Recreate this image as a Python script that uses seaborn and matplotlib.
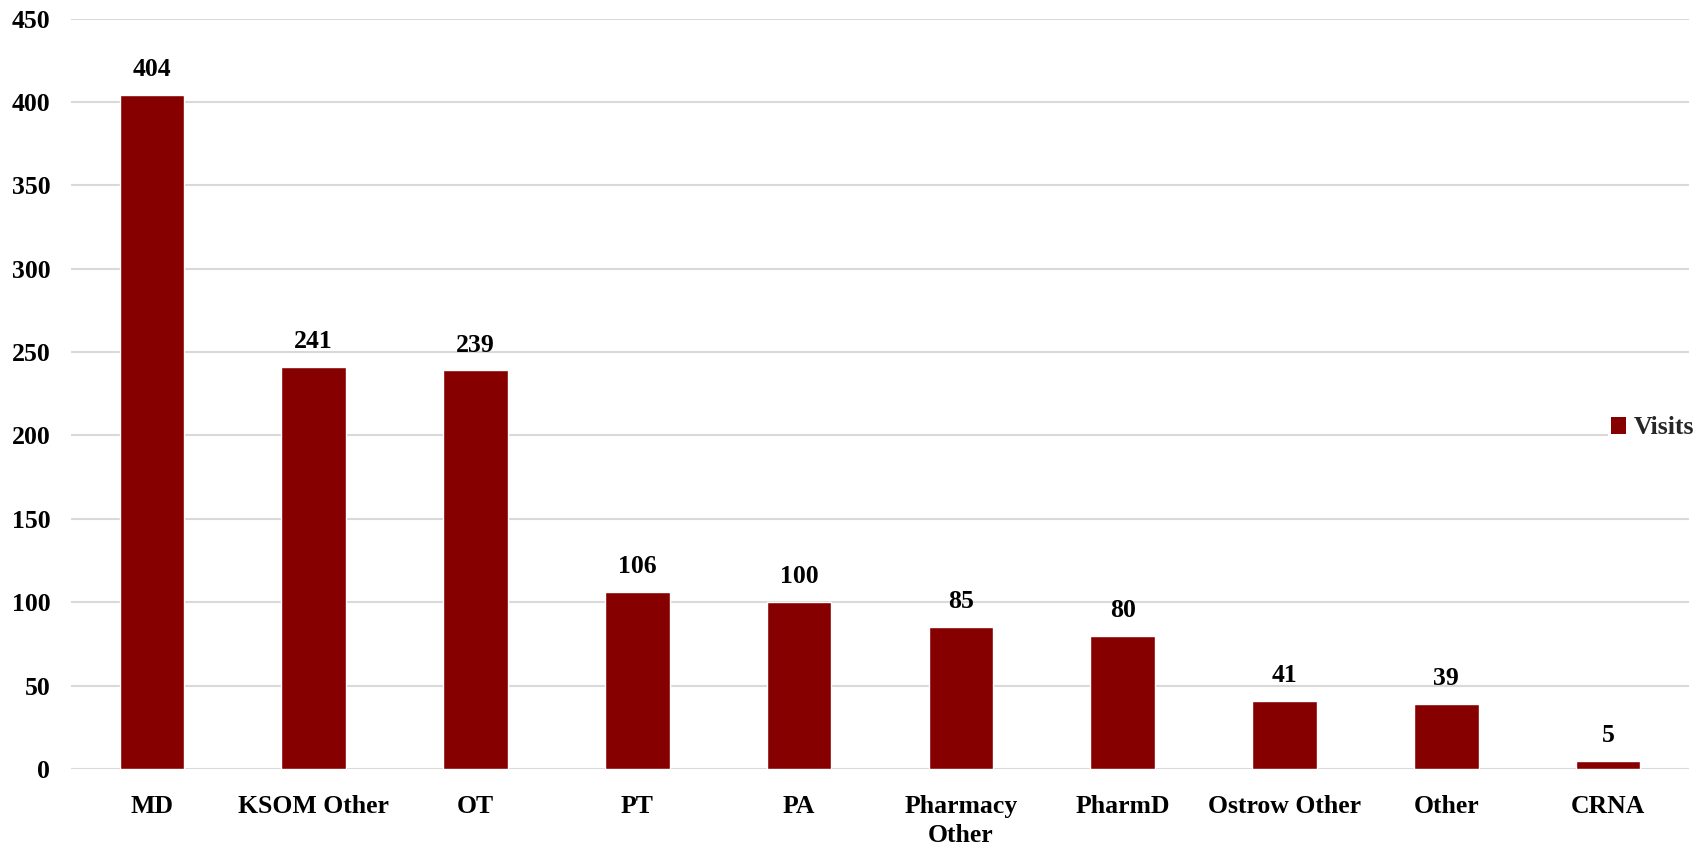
import matplotlib
matplotlib.use("Agg")
import matplotlib.pyplot as plt
import seaborn as sns
import pandas as pd
from matplotlib.patches import Patch

categories = ["MD", "KSOM Other", "OT", "PT", "PA", "Pharmacy\nOther",
              "PharmD", "Ostrow Other", "Other", "CRNA"]
visits = [404, 241, 239, 106, 100, 85, 80, 41, 39, 5]
y_ticks = [0, 50, 100, 150, 200, 250, 300, 350, 400, 450]

BAR_COLOR = "#870000"
GRID_COLOR = "#d9d9d9"
FONT_SIZE = 18.5

sns.set_theme(style="white")
plt.rcParams["font.family"] = ["Liberation Serif", "DejaVu Serif"]
plt.rcParams["font.weight"] = "bold"

df = pd.DataFrame({"Category": categories, "Visits": visits})

fig = plt.figure(figsize=(17.07, 8.49), dpi=100)
ax = fig.add_axes([71 / 1707, 1 - 769 / 849, (1689 - 71) / 1707, (769 - 18.5) / 849])

sns.barplot(data=df, x="Category", y="Visits", color=BAR_COLOR, width=0.4,
            saturation=1, ax=ax, zorder=3)

ax.set_ylim(0, 450)
ax.set_xlim(-0.5, len(categories) - 0.5)
ax.set_yticks(y_ticks)
ax.yaxis.grid(True, color=GRID_COLOR, linewidth=1.5, zorder=0)
ax.set_axisbelow(True)
for s in ax.spines.values():
    s.set_visible(False)
ax.set_xlabel("")
ax.set_ylabel("")
ax.tick_params(axis="both", length=0, labelsize=FONT_SIZE, colors="black")
ax.tick_params(axis="y", pad=15)
ax.tick_params(axis="x", pad=19)
for lbl in ax.get_xticklabels() + ax.get_yticklabels():
    lbl.set_fontweight("bold")
for lbl in ax.get_xticklabels():
    lbl.set_linespacing(1.32)

ax.bar_label(ax.containers[0], labels=[str(v) for v in visits], padding=10,
             fontsize=FONT_SIZE, fontweight="bold", color="black")

handle = Patch(facecolor=BAR_COLOR, edgecolor="none")
leg = fig.legend([handle], ["Visits"], loc="center left",
                 bbox_to_anchor=(1608 / 1707, 1 - 428 / 849),
                 frameon=True, facecolor="white", edgecolor="none", framealpha=1,
                 borderpad=0.1, borderaxespad=0, handlelength=0.6,
                 handleheight=0.6, handletextpad=0.3,
                 prop={"size": FONT_SIZE, "weight": "bold"})

fig.savefig("out.png", dpi=100, facecolor="white")
